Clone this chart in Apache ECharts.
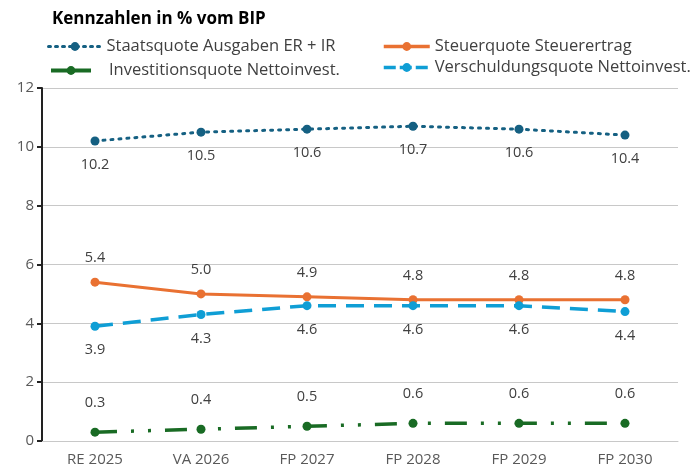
<!DOCTYPE html>
<html><head><meta charset="utf-8">
<script src="https://cdn.jsdelivr.net/npm/echarts@6/dist/echarts.min.js"></script>
<style>html,body{margin:0;padding:0;background:#fff}#c{width:691px;height:470px}</style>
</head><body><div id="c"></div>
<script>
const categories = ['RE 2025','VA 2026','FP 2027','FP 2028','FP 2029','FP 2030'];
const staatsquote = [10.2,10.5,10.6,10.7,10.6,10.4];
const steuerquote = [5.4,5.0,4.9,4.8,4.8,4.8];
const investitionsquote = [0.3,0.4,0.5,0.6,0.6,0.6];
const verschuldungsquote = [3.9,4.3,4.6,4.6,4.6,4.4];
const names = ['Staatsquote Ausgaben ER + IR','Steuerquote Steuerertrag','Investitionsquote Nettoinvest.','Verschuldungsquote Nettoinvest.'];
const yTicks = {min:0,max:12,interval:2};

const font = 'Open Sans';
const legText = {fontFamily:font,fontSize:16.5,color:'#404040'};
const chart = echarts.init(document.getElementById('c'));
function lbl(pos, dist){return {show:true,position:pos,distance:dist,color:'#404040',fontSize:14.5,fontFamily:font,formatter:p=>p.value.toFixed(1)};}
chart.setOption({
  animation:false,
  title:{text:'Kennzahlen in % vom BIP',left:47,top:6,textStyle:{fontFamily:font,fontSize:17,fontWeight:'bold',color:'#000'}},
  legend:[
    {data:[{name:names[0],lineStyle:{width:3,type:[2,5]}}],left:42,top:33,itemWidth:53,itemHeight:11,textStyle:legText},
    {data:[{name:names[2],lineStyle:{type:'solid',width:4}}],left:44,top:57,itemWidth:40,itemHeight:11,textStyle:Object.assign({padding:[0,0,0,13]},legText)},
    {data:[{name:names[1],lineStyle:{width:3.5}},{name:names[3],lineStyle:{type:[12,4],width:3.5}}],orient:'vertical',left:377,top:33,itemWidth:46,itemHeight:11,itemGap:4,textStyle:legText}
  ],
  grid:{left:42,right:13,top:88,bottom:29},
  xAxis:{type:'category',data:categories,boundaryGap:true,
    axisLine:{show:true,lineStyle:{color:'#c8c8c8',width:1}},axisTick:{show:false},
    axisLabel:{color:'#595959',fontSize:15,fontFamily:font,margin:11}},
  yAxis:{type:'value',min:yTicks.min,max:yTicks.max,interval:yTicks.interval,
    axisLine:{show:true,lineStyle:{color:'#222',width:2}},
    axisTick:{show:true,inside:false,length:5,lineStyle:{color:'#222',width:2}},
    axisLabel:{color:'#595959',fontSize:15,fontFamily:font,margin:8},
    splitLine:{lineStyle:{color:'#c8c8c8',width:1}}},
  series:[
    {name:names[0],type:'line',data:staatsquote,symbol:'circle',symbolSize:9,color:'#156082',
     lineStyle:{width:3,type:[2,6],cap:'round'},label:lbl('bottom',12)},
    {name:names[1],type:'line',data:steuerquote,symbol:'circle',symbolSize:9,color:'#E97132',
     lineStyle:{width:3,type:'solid'},label:lbl('top',12)},
    {name:names[2],type:'line',data:investitionsquote,symbol:'circle',symbolSize:9,color:'#196B24',
     lineStyle:{width:3.5,type:[22,14,3,14,3,14]},label:lbl('top',17)},
    {name:names[3],type:'line',data:verschuldungsquote,symbol:'circle',symbolSize:9,color:'#0F9ED5',
     lineStyle:{width:3.5,type:[18,10]},label:lbl('bottom',12)}
  ]
});
</script></body></html>
